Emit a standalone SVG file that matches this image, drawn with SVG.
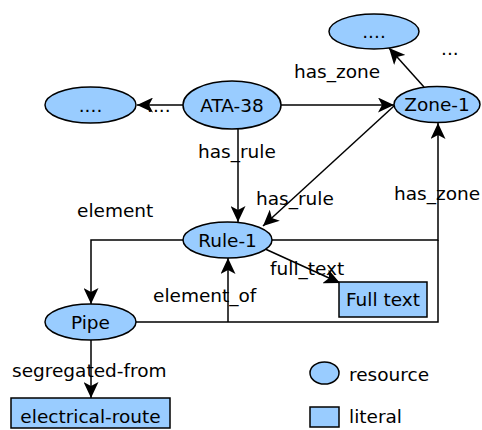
<svg xmlns="http://www.w3.org/2000/svg" width="482" height="430" viewBox="0 0 482 430">
<style>
.n{fill:#99ccff;stroke:#000;stroke-width:1.5}
.e{fill:none;stroke:#000;stroke-width:1.5}
text{font-family:"DejaVu Sans","Liberation Sans",sans-serif;font-size:18.5px;fill:#000}
.c{text-anchor:middle}
</style>
<defs>
<marker id="ah" markerUnits="userSpaceOnUse" markerWidth="17" markerHeight="15" refX="16" refY="7.5" orient="auto">
<path d="M0,0 L16,7.5 L0,15 L4,7.5 z" fill="#000"/>
</marker>
</defs>
<rect width="482" height="430" fill="#fff"/>
<g id="connectors">
<line class="e" x1="183" y1="105" x2="137" y2="105" marker-end="url(#ah)"/>
<line class="e" x1="281" y1="105" x2="394" y2="105" marker-end="url(#ah)"/>
<line class="e" x1="424" y1="87" x2="389" y2="48" marker-end="url(#ah)"/>
<line class="e" x1="238" y1="129" x2="238" y2="222" marker-end="url(#ah)"/>
<line class="e" x1="394" y1="106" x2="263" y2="226" marker-end="url(#ah)"/>
<polyline class="e" points="272,240 438,240 438,123" marker-end="url(#ah)"/>
<polyline class="e" points="136,322 438,322 438,240"/>
<line class="e" x1="228" y1="322" x2="228" y2="258" marker-end="url(#ah)"/>
<polyline class="e" points="183,240 91,240 91,304" marker-end="url(#ah)"/>
<line class="e" x1="263" y1="248" x2="340" y2="283" marker-end="url(#ah)"/>
<line class="e" x1="91" y1="340" x2="91" y2="398" marker-end="url(#ah)"/>
<text x="147" y="112">....</text>
<text x="294" y="78">has_zone</text>
<text x="198" y="158">has_rule</text>
<text x="256" y="205">has_rule</text>
<text x="394" y="200">has_zone</text>
<text x="77" y="217">element</text>
<text x="153" y="302">element_of</text>
<text x="270" y="275">full_text</text>
<text x="12" y="377">segregated-from</text>
</g>
<g id="ata38"><ellipse class="n" cx="232" cy="105" rx="49" ry="24"/><text class="c" x="232" y="112">ATA-38</text></g>
<g id="dots-left"><ellipse class="n" cx="90.5" cy="105" rx="45.5" ry="18"/><text class="c" x="90.5" y="112">....</text></g>
<g id="dots-top"><ellipse class="n" cx="374" cy="31.5" rx="45" ry="17.5"/><text class="c" x="374" y="38">....</text></g>
<g id="dots-more"><text x="441" y="55">...</text></g>
<g id="zone1"><ellipse class="n" cx="437" cy="104.5" rx="43" ry="18"/><text class="c" x="437" y="111">Zone-1</text></g>
<g id="rule1"><ellipse class="n" cx="227.5" cy="240" rx="44.5" ry="18"/><text class="c" x="227.5" y="247">Rule-1</text></g>
<g id="pipe"><ellipse class="n" cx="90.5" cy="322" rx="45.5" ry="18"/><text class="c" x="90.5" y="329">Pipe</text></g>
<g id="fulltext"><rect class="n" x="339" y="282" width="88" height="35"/><text class="c" x="383" y="306">Full text</text></g>
<g id="electrical-route"><rect class="n" x="11" y="398" width="159" height="30"/><text class="c" x="90.5" y="423">electrical-route</text></g>
<g id="legend">
<ellipse class="n" cx="324.5" cy="373" rx="14.5" ry="11"/><text x="349" y="381">resource</text>
<rect class="n" x="310" y="407" width="29" height="20"/><text x="349" y="423">literal</text>
</g>
</svg>
